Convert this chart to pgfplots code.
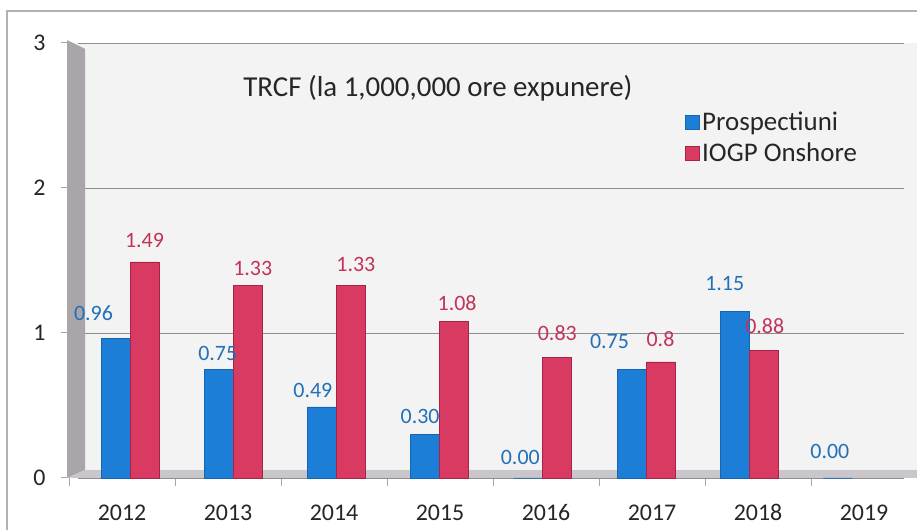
\documentclass[border=0pt]{standalone}
\usepackage{pgfplots}
\pgfplotsset{compat=1.18}
\usepackage{fontspec}
\setmainfont{Carlito}
\definecolor{bblue}{HTML}{1C7ED6}
\definecolor{bblued}{HTML}{1565B0}
\definecolor{rred}{HTML}{D83A62}
\definecolor{rredd}{HTML}{A82348}
\definecolor{lblue}{HTML}{2170B8}
\definecolor{lred}{HTML}{C23358}
\definecolor{wall}{HTML}{A9A5AB}
\definecolor{floorc}{HTML}{C9C7CB}
\definecolor{bg}{HTML}{F3F3F3}
\definecolor{gridc}{HTML}{8E8E8E}
\definecolor{txt}{HTML}{262626}
\pgfplotstableread{
x y l dx dy
0 0.96 0.96 -36.5 14
1 0.75 0.75 -15.5 5
2 0.49 0.49 -23.5 6
3 0.30 0.30 -19.5 7
4 0.00 0.00 -22.5 10
5 0.75 0.75 -36.5 17
6 1.15 1.15 -24.5 17
7 0.00 0.00 -22.5 16
}\prosp
\pgfplotstableread{
x y l dx dy
0 1.49 1.49 14.5 11
1 1.33 1.33 19.5 6
2 1.33 1.33 19.5 10
3 1.08 1.08 17.5 7
4 0.83 0.83 14.5 13
5 0.80 0.8 14.5 12
6 0.88 0.88 15.5 13
}\iogp
\newcommand{\tickf}{\fontsize{24}{28}\selectfont}
\newcommand{\titf}{\fontsize{29}{34}\selectfont}
\newcommand{\legf}{\fontsize{27}{32}\selectfont}
\newcommand{\lblf}{\fontsize{22}{26}\selectfont}
\begin{document}
\begin{tikzpicture}[x=1bp,y=1bp]
\useasboundingbox (0,0) rectangle (917,530);
\fill[white] (0,0) rectangle (917,530);
\draw[gray!60, line width=1.2bp] (7,-2) -- (7,519) -- (920,519);
% front plane: ticks, tick labels, axis lines, back wall fill
\begin{axis}[
  at={(69bp,52bp)}, anchor=south west,
  scale only axis, width=848bp, height=435bp,
  xmin=-0.5, xmax=7.5, ymin=0, ymax=3,
  clip=false,
  axis background/.style={fill=bg},
  axis x line*=bottom, axis y line*=left,
  axis line style={gray!70, line width=1bp},
  ytick={0,1,2,3},
  tick align=outside, major tick length=8bp,
  tick style={gray!70, line width=1bp},
  xtick={-0.5,0.5,...,7.5}, xticklabels={},
  extra x ticks={0,1,2,3,4,5,6,7},
  extra x tick labels={2012,2013,2014,2015,2016,2017,2018,2019},
  extra x tick style={major tick length=0pt, grid=none},
  xticklabel style={font=\tickf, text=txt, yshift=-23bp},
  yticklabel style={font=\tickf, text=txt, xshift=-12bp},
  /pgf/number format/assume math mode=true,
]
\node[font=\titf, text=txt] at (rel axis cs:0.435,0.897) {TRCF (la 1,000,000 ore expunere)};
\end{axis}
% back plane: grid, wall, floor, bars
\begin{axis}[
  at={(78.4bp,52bp)}, anchor=south west,
  scale only axis, width=825.6bp, height=435bp,
  xmin=-0.5, xmax=7.5, ymin=0, ymax=3,
  clip=false,
  axis line style={draw=none},
  tick style={draw=none},
  xtick=\empty,
  ytick={0,1,2,3}, yticklabels={},
  ymajorgrids, grid style={gridc, line width=0.9bp},
  legend style={at={(0.735,0.846)}, anchor=north west, draw=none, fill=none,
    font=\legf, text=txt, row sep=7bp, inner sep=0pt,
    /tikz/every even column/.append style={column sep=3bp}},
  legend cell align=left,
  legend image code/.code={\fill[#1] (0bp,-7bp) rectangle (14bp,7bp);},
]
\fill[wall] (axis cs:-0.610,0) -- (axis cs:-0.610,3.02) -- (axis cs:-0.436,2.96) -- (axis cs:-0.436,0.055) -- cycle;
\fill[floorc] (axis cs:-0.610,0) -- (axis cs:7.70,0) -- (axis cs:7.80,0.055) -- (axis cs:-0.436,0.055) -- cycle;
\addplot[ybar, bar width=29bp, bar shift=-14.5bp, draw=bblued, fill=bblue, line width=0.8bp,
  point meta=explicit symbolic, nodes near coords,
  visualization depends on={\thisrow{dx} \as \dx},
  visualization depends on={\thisrow{dy} \as \dy},
  every node near coord/.append style={font=\lblf, text=lblue, xshift=\dx bp, yshift=\dy bp}]
  table[x=x, y=y, meta=l] {\prosp};
\addlegendentry{Prospectiuni}
\addplot[ybar, bar width=29bp, bar shift=14.5bp, draw=rredd, fill=rred, line width=0.8bp,
  point meta=explicit symbolic, nodes near coords,
  visualization depends on={\thisrow{dx} \as \dx},
  visualization depends on={\thisrow{dy} \as \dy},
  every node near coord/.append style={font=\lblf, text=lred, xshift=\dx bp, yshift=\dy bp}]
  table[x=x, y=y, meta=l] {\iogp};
\addlegendentry{IOGP Onshore}
\end{axis}
\end{tikzpicture}
\end{document}
